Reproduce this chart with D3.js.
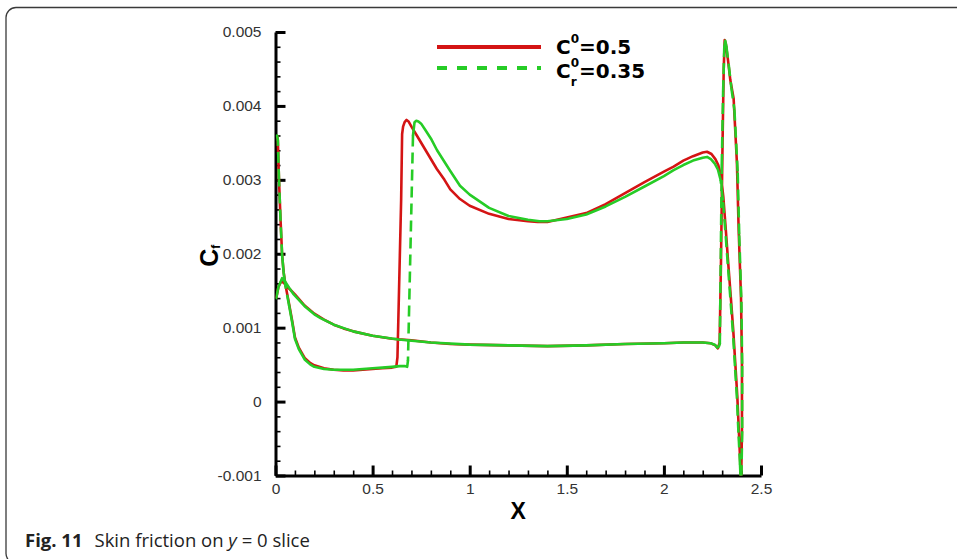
<!DOCTYPE html>
<html>
<head>
<meta charset="utf-8">
<script src="https://cdn.jsdelivr.net/npm/d3@7/dist/d3.min.js"></script>
<style>
  body { margin: 0; background: #fff; }
  svg { display: block; }
</style>
</head>
<body>
<div id="chart"></div>
<script>
// tick values
const xTicks = [0, 0.5, 1, 1.5, 2, 2.5];
const yTicks = [-0.001, 0, 0.001, 0.002, 0.003, 0.004, 0.005];
const xMinor = [0.1, 0.2, 0.3, 0.4, 0.6, 0.7, 0.8, 0.9, 1.1, 1.2, 1.3, 1.4, 1.6, 1.7, 1.8, 1.9, 2.1, 2.2, 2.3, 2.4];
const yMinor = [-0.0008, -0.0006, -0.0004, -0.0002, 0.0002, 0.0004, 0.0006, 0.0008, 0.0012, 0.0014, 0.0016, 0.0018,
                0.0022, 0.0024, 0.0026, 0.0028, 0.0032, 0.0034, 0.0036, 0.0038, 0.0042, 0.0044, 0.0046, 0.0048];

// legend labels: C^0 = 0.5 and C_r^0 = 0.35
const legendSup = ["0", "0"];
const legendSub = ["", "r"];
const legendValue = ["=0.5", "=0.35"];

// series C0 = 0.5 (red), one loop around the section
const redX = [0.004, 0.015, 0.03, 0.045, 0.07, 0.1, 0.15, 0.2, 0.25, 0.3, 0.35, 0.4, 0.5, 0.6, 0.7, 0.8, 0.9, 1.0, 1.2, 1.4,
  1.6, 1.8, 2.0, 2.1, 2.2, 2.24, 2.265, 2.278, 2.287, 2.294, 2.302, 2.308, 2.313, 2.319, 2.33, 2.342, 2.359, 2.376, 2.385,
  2.397, 2.402, 2.402, 2.398,
  2.395, 2.393, 2.386, 2.378, 2.368, 2.357, 2.344, 2.331, 2.318, 2.306, 2.294, 2.28, 2.265, 2.245, 2.222, 2.2, 2.15, 2.1,
  2.05, 2.0, 1.9, 1.8, 1.7, 1.6, 1.5, 1.4, 1.35, 1.3, 1.2, 1.1, 1.0, 0.95, 0.9, 0.87, 0.83, 0.78, 0.73, 0.7, 0.685, 0.675,
  0.665, 0.657, 0.652, 0.647, 0.636, 0.628, 0.622, 0.6, 0.55, 0.5, 0.45, 0.4, 0.35, 0.3, 0.25, 0.2, 0.18, 0.15, 0.12, 0.1,
  0.086, 0.07, 0.051, 0.042, 0.034, 0.026, 0.018, 0.012, 0.008];
const redCf = [0.00140, 0.00155, 0.00163, 0.00160, 0.00153, 0.00145, 0.00130, 0.00119, 0.00111, 0.00104, 0.00099, 0.00095,
  0.00089, 0.00085, 0.00083, 0.00080, 0.00078, 0.00077, 0.00076, 0.00075, 0.00076, 0.00078, 0.00079, 0.00080, 0.00080,
  0.00079, 0.00076, 0.00072, 0.00080, 0.0019, 0.0035, 0.0045, 0.00489, 0.00484, 0.00462, 0.00435, 0.00410, 0.00323,
  0.00232, 0.00142, 0.00053, -0.00038, -0.00105,
  -0.00105, -0.00082, -0.00040, 0.00007, 0.00050, 0.00097, 0.00143, 0.00188, 0.00235, 0.00277, 0.00305, 0.00320, 0.00328,
  0.00335, 0.00338, 0.00337, 0.00332, 0.00326, 0.00318, 0.00311, 0.00297, 0.00282, 0.00267, 0.00255, 0.00249, 0.00243,
  0.00243, 0.00244, 0.00247, 0.00254, 0.00265, 0.00274, 0.00287, 0.00300, 0.00315, 0.00337, 0.00359, 0.00372, 0.00379,
  0.00381, 0.00378, 0.00372, 0.00362, 0.00273, 0.0015, 0.0006, 0.00047, 0.00046, 0.00045, 0.00044, 0.00043, 0.00042,
  0.00042, 0.00043, 0.00045, 0.00049, 0.00052, 0.00059, 0.00073, 0.00087, 0.00109, 0.00132, 0.00158, 0.00175, 0.00199,
  0.00246, 0.0030, 0.00354, 0.0036];

// series Cr0 = 0.35 (green)
const greenX = [0.004, 0.015, 0.034, 0.05, 0.07, 0.094, 0.15, 0.2, 0.232, 0.3, 0.4, 0.5, 0.633, 0.8, 1.0, 1.2, 1.4, 1.6,
  1.8, 2.0, 2.1, 2.2, 2.24, 2.262, 2.275, 2.284, 2.288, 2.298, 2.305, 2.311, 2.316, 2.322, 2.334, 2.347, 2.363, 2.38,
  2.388, 2.399, 2.403, 2.403, 2.399,
  2.395, 2.392, 2.384, 2.376, 2.366, 2.355, 2.342, 2.329, 2.316, 2.304, 2.292, 2.278, 2.262, 2.242, 2.222, 2.2, 2.15, 2.1,
  2.05, 2.0, 1.9, 1.8, 1.7, 1.6, 1.5, 1.4, 1.36, 1.3, 1.2, 1.1, 1.0, 0.95, 0.9, 0.832, 0.8, 0.77, 0.75, 0.736, 0.725,
  0.716, 0.708, 0.682, 0.678, 0.665, 0.64, 0.6, 0.55, 0.5, 0.45, 0.4, 0.35, 0.3, 0.25, 0.2, 0.18, 0.15, 0.12, 0.1, 0.086,
  0.07, 0.051, 0.042, 0.034, 0.026, 0.018, 0.012, 0.008];
const greenCf = [0.00140, 0.00155, 0.00167, 0.00162, 0.00154, 0.00145, 0.00129, 0.00118, 0.00113, 0.00104, 0.00095,
  0.00089, 0.00084, 0.00080, 0.00077, 0.00076, 0.00075, 0.00076, 0.00078, 0.00079, 0.00080, 0.00080, 0.00079, 0.00077,
  0.00073, 0.00075, 0.00078, 0.0032, 0.0042, 0.00480, 0.00488, 0.00480, 0.00455, 0.00425, 0.00395, 0.00310, 0.00225,
  0.00135, 0.00048, -0.00040, -0.00105,
  -0.00105, -0.00085, -0.00042, 0.00005, 0.00048, 0.00095, 0.00141, 0.00186, 0.00232, 0.00272, 0.00300, 0.00314, 0.00322,
  0.00328, 0.00331, 0.00330, 0.00326, 0.00320, 0.00313, 0.00305, 0.00291, 0.00277, 0.00264, 0.00253, 0.00247, 0.00244,
  0.00244, 0.00246, 0.00251, 0.00262, 0.00280, 0.00292, 0.00312, 0.00340, 0.00356, 0.00368, 0.00376, 0.00379, 0.00380,
  0.00378, 0.0036, 0.00055, 0.00047, 0.00048, 0.00048, 0.00047, 0.00046, 0.00045, 0.00044, 0.00043, 0.00043, 0.00043,
  0.00044, 0.00047, 0.00050, 0.00057, 0.00071, 0.00085, 0.00107, 0.00130, 0.00157, 0.00174, 0.00198, 0.00245, 0.0030,
  0.00354, 0.0036];

const red = "#d41414";
const green = "#26cc26";

//Setting up chart margins
let margin = {top: 32, right: 196, bottom: 83.5, left: 275.5};
let width = 957 - margin.left - margin.right;
let height = 559 - margin.top - margin.bottom;

let root = d3.select("#chart").append("svg")
    .attr("width", 957)
    .attr("height", 559);

// figure frame (rounded box, open to the right and bottom)
root.append("rect")
    .attr("x", 6).attr("y", 7.5)
    .attr("width", 1100).attr("height", 556)
    .attr("rx", 10)
    .attr("fill", "none")
    .attr("stroke", "#3a3a3a")
    .attr("stroke-width", 1.3);

let svg = root.append("g")
    .attr("transform", "translate(" + margin.left + "," + margin.top + ")");

let x = d3.scaleLinear().domain([0, 2.5]).range([0, width]);
let y = d3.scaleLinear().domain([-0.001, 0.005]).range([height, 0]);

const tickFont = "'Liberation Sans', Arial, sans-serif";

//Minor ticks
svg.append("g")
    .attr("transform", "translate(0," + height + ")")
    .call(d3.axisBottom(x).tickValues(xMinor).tickSize(-5).tickFormat(""))
    .call(g => g.select(".domain").remove())
    .call(g => g.selectAll("line").attr("stroke-width", 1.6));
svg.append("g")
    .call(d3.axisLeft(y).tickValues(yMinor).tickSize(-5).tickFormat(""))
    .call(g => g.select(".domain").remove())
    .call(g => g.selectAll("line").attr("stroke-width", 1.6));

//Major axes
svg.append("g")
    .attr("transform", "translate(0," + height + ")")
    .call(d3.axisBottom(x).tickValues(xTicks).tickSize(-10).tickSizeOuter(0).tickPadding(7).tickFormat(d => String(d)))
    .call(g => g.select(".domain").attr("stroke-width", 3))
    .call(g => g.selectAll(".tick line").attr("stroke-width", 3))
    .call(g => g.selectAll("text").attr("font-family", tickFont).attr("font-size", 15.5).attr("fill", "#333"));

svg.append("g")
    .call(d3.axisLeft(y).tickValues(yTicks).tickSize(-10).tickSizeOuter(0).tickPadding(14)
        .tickFormat(d => Math.abs(d) < 1e-12 ? "0" : d.toFixed(3)))
    .call(g => g.select(".domain").attr("stroke-width", 3))
    .call(g => g.selectAll(".tick line").attr("stroke-width", 3))
    .call(g => g.selectAll("text").attr("font-family", tickFont).attr("font-size", 15.5).attr("fill", "#333"));

//Axis titles
svg.append("text")
    .attr("x", width / 2)
    .attr("y", height + 43)
    .attr("text-anchor", "middle")
    .attr("font-family", tickFont)
    .attr("font-weight", "bold")
    .attr("font-size", 23)
    .text("X");

let yTitle = svg.append("text")
    .attr("transform", "translate(" + (-58) + "," + (y(0.002) + 2) + ") rotate(-90)")
    .attr("text-anchor", "middle")
    .attr("font-family", tickFont)
    .attr("font-weight", "bold")
    .attr("font-size", 25);
yTitle.append("tspan").text("C");
yTitle.append("tspan").attr("font-size", 12).attr("baseline-shift", "-2").text("f");

//Clip for curves
svg.append("clipPath").attr("id", "plotclip")
    .append("rect").attr("x", 0).attr("y", -5).attr("width", width + 5).attr("height", height + 5);

let plot = svg.append("g").attr("clip-path", "url(#plotclip)");

const lineOf = (xs, ys) => d3.line().x(i => x(xs[i])).y(i => y(ys[i]));

// red series: one solid loop
plot.append("path")
    .datum(d3.range(redX.length))
    .attr("fill", "none")
    .attr("stroke", red)
    .attr("stroke-width", 2.6)
    .attr("stroke-linejoin", "round")
    .attr("d", lineOf(redX, redCf));

// green series: dashed pattern restarts on every segment, so only long steep segments show the gaps
const greenLine = lineOf(greenX, greenCf);
let runs = [];
let run = [0];
for (let i = 1; i < greenX.length; i++) {
    const dx = x(greenX[i]) - x(greenX[i - 1]);
    const dy = y(greenCf[i]) - y(greenCf[i - 1]);
    const steep = Math.abs(dy) > 3 * Math.abs(dx) && Math.hypot(dx, dy) > 18;
    if (steep) {
        if (run.length > 1) runs.push({idx: run, dashed: false});
        runs.push({idx: [i - 1, i], dashed: true});
        run = [i];
    } else {
        run.push(i);
    }
}
if (run.length > 1) runs.push({idx: run, dashed: false});

plot.append("g")
    .selectAll("path")
    .data(runs)
    .enter().append("path")
    .attr("fill", "none")
    .attr("stroke", green)
    .attr("stroke-width", 2.6)
    .attr("stroke-linejoin", "round")
    .attr("stroke-linecap", d => d.dashed ? "butt" : "round")
    .attr("stroke-dasharray", d => d.dashed ? "11,6" : null)
    .attr("d", d => greenLine(d.idx));

//Legend
const legendFont = "'DejaVu Sans', sans-serif";
const legendRows = [
    {color: red, dash: null, yy: 47 - margin.top, base: 54 - margin.top},
    {color: green, dash: "10,10", yy: 68 - margin.top, base: 78 - margin.top}
];
legendRows.forEach((r, i) => {
    svg.append("line")
        .attr("x1", 437 - margin.left).attr("x2", 541 - margin.left)
        .attr("y1", r.yy).attr("y2", r.yy)
        .attr("stroke", r.color)
        .attr("stroke-width", 4)
        .attr("stroke-dasharray", r.dash);
    const x0 = 556 - margin.left;
    const c = svg.append("text")
        .attr("x", x0).attr("y", r.base)
        .attr("font-family", legendFont).attr("font-weight", "bold").attr("font-size", 20)
        .text("C");
    const wC = c.node().getComputedTextLength();
    const sup = svg.append("text")
        .attr("x", x0 + wC).attr("y", r.base - 11)
        .attr("font-family", legendFont).attr("font-weight", "bold").attr("font-size", 12)
        .text(legendSup[i]);
    let wS = sup.node().getComputedTextLength();
    if (legendSub[i]) {
        const sub = svg.append("text")
            .attr("x", x0 + wC).attr("y", r.base + 8)
            .attr("font-family", legendFont).attr("font-weight", "bold").attr("font-size", 12)
            .text(legendSub[i]);
        wS = Math.max(wS, sub.node().getComputedTextLength());
    }
    svg.append("text")
        .attr("x", x0 + wC + wS).attr("y", r.base)
        .attr("font-family", legendFont).attr("font-weight", "bold").attr("font-size", 20)
        .text(legendValue[i]);
});

//Caption
let cap = root.append("text")
    .attr("x", 25).attr("y", 547)
    .attr("font-family", "'Open Sans', 'Noto Sans', sans-serif")
    .attr("font-size", 18.5)
    .attr("fill", "#222");
cap.append("tspan").attr("font-weight", "bold").text("Fig. 11");
cap.append("tspan").attr("dx", 12).text("Skin friction on ");
cap.append("tspan").attr("font-style", "italic").text("y");
cap.append("tspan").text(" = 0 slice");
</script>
</body>
</html>
